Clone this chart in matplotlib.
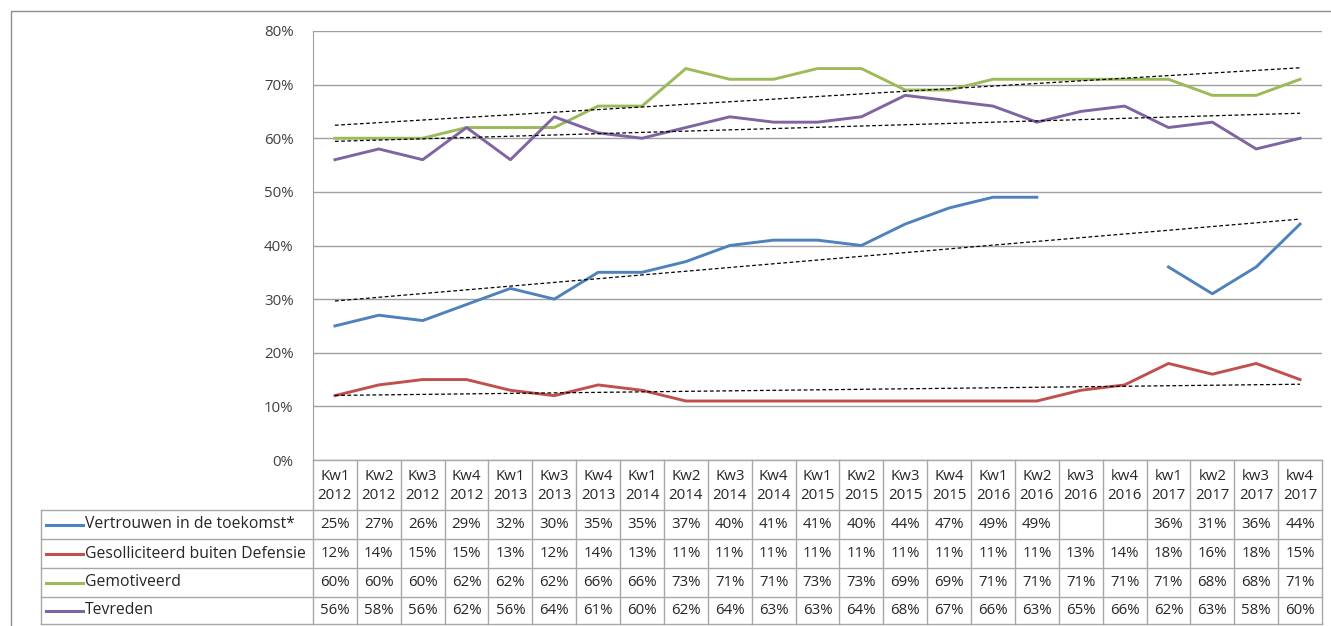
import numpy as np
import matplotlib.pyplot as plt
from matplotlib.lines import Line2D
from matplotlib.patches import Rectangle

plt.rcParams['font.family'] = ['Open Sans', 'DejaVu Sans']

quarters = ["Kw1\n2012", "Kw2\n2012", "Kw3\n2012", "Kw4\n2012", "Kw1\n2013", "Kw3\n2013",
            "Kw4\n2013", "Kw1\n2014", "Kw2\n2014", "Kw3\n2014", "Kw4\n2014", "Kw1\n2015",
            "Kw2\n2015", "Kw3\n2015", "Kw4\n2015", "Kw1\n2016", "Kw2\n2016", "kw3\n2016",
            "kw4\n2016", "kw1\n2017", "kw2\n2017", "kw3\n2017", "kw4\n2017"]

vertrouwen = [25, 27, 26, 29, 32, 30, 35, 35, 37, 40, 41, 41, 40, 44, 47, 49, 49,
              None, None, 36, 31, 36, 44]
gesolliciteerd = [12, 14, 15, 15, 13, 12, 14, 13, 11, 11, 11, 11, 11, 11, 11, 11, 11,
                  13, 14, 18, 16, 18, 15]
gemotiveerd = [60, 60, 60, 62, 62, 62, 66, 66, 73, 71, 71, 73, 73, 69, 69, 71, 71,
               71, 71, 71, 68, 68, 71]
tevreden = [56, 58, 56, 62, 56, 64, 61, 60, 62, 64, 63, 63, 64, 68, 67, 66, 63,
            65, 66, 62, 63, 58, 60]

series_names = ["Vertrouwen in de toekomst*", "Gesolliciteerd buiten Defensie",
                "Gemotiveerd", "Tevreden"]
series_values = [vertrouwen, gesolliciteerd, gemotiveerd, tevreden]
colors = ["#4F81BD", "#C0504D", "#9BBB59", "#8064A2"]

W, H = 1331, 626
fig = plt.figure(figsize=(W / 100, H / 100), dpi=100)

# pixel helpers
def fx(px):
    return px / W

def fy(py):
    return 1 - py / H

# outer chart border
fig.patches.append(Rectangle((fx(11), fy(640)), fx(1340) - fx(11), fy(11) - fy(640),
                             transform=fig.transFigure, fill=False,
                             edgecolor="#8c8c8c", lw=1))

x0, x1, ytop, ybot = 313, 1322, 31, 460
ax = fig.add_axes([fx(x0), fy(ybot), fx(x1) - fx(x0), fy(ytop) - fy(ybot)])
n = len(quarters)
x = np.arange(n)

for vals, col in zip(series_values, colors):
    y = np.array([np.nan if v is None else v / 100 for v in vals])
    ax.plot(x, y, color=col, lw=2.1, solid_joinstyle='round')
    ok = ~np.isnan(y)
    k, b = np.polyfit(x[ok], y[ok], 1)
    ax.plot(x, k * x + b, color="black", lw=0.9, ls=(0, (3, 2)))

ax.set_xlim(-0.5, n - 0.5)
ax.set_ylim(0, 0.8)
ax.set_yticks(np.arange(0, 0.81, 0.1))
ax.set_yticklabels([f"{int(round(t * 100))}%" for t in np.arange(0, 0.81, 0.1)],
                   fontsize=10.8, color="#404040")
ax.tick_params(axis='y', length=0, pad=14)
ax.set_xticks([])
ax.grid(axis='y', color="#a0a0a0", lw=1)
for s in ["top", "right", "bottom"]:
    ax.spines[s].set_visible(False)
ax.spines["left"].set_color("#a0a0a0")

# data table below the plot
tleft, tbot = 41, 624
hdr_bot = 510
row_lines = [510, 539, 568, 597, 624]
line_col = "#a8a8a8"
colw = (x1 - x0) / n

def hline(py, xa, xb):
    fig.add_artist(Line2D([fx(xa), fx(xb)], [fy(py), fy(py)], transform=fig.transFigure,
                          color=line_col, lw=1))

def vline(px, ya, yb):
    fig.add_artist(Line2D([fx(px), fx(px)], [fy(ya), fy(yb)], transform=fig.transFigure,
                          color=line_col, lw=1))

hline(ybot, x0, x1)
for py in row_lines:
    hline(py, tleft, x1)
vline(tleft, hdr_bot, tbot)
for i in range(n + 1):
    vline(x0 + i * colw, ybot, tbot)

for i, q in enumerate(quarters):
    fig.text(fx(x0 + (i + 0.5) * colw), fy((ybot + hdr_bot) / 2 + 1), q,
             ha="center", va="center", fontsize=10.8, color="#262626", linespacing=1.3)

for r, (name, vals, col) in enumerate(zip(series_names, series_values, colors)):
    yc = (row_lines[r] + row_lines[r + 1]) / 2
    fig.add_artist(Line2D([fx(46), fx(83)], [fy(yc), fy(yc)], transform=fig.transFigure,
                          color=col, lw=2.2))
    fig.text(fx(85), fy(yc), name, ha="left", va="center", fontsize=11.3, color="#262626")
    for i, v in enumerate(vals):
        if v is None:
            continue
        fig.text(fx(x0 + (i + 0.5) * colw), fy(yc), f"{v}%", ha="center", va="center",
                 fontsize=10.8, color="#262626")

fig.savefig("out.png", dpi=100)
